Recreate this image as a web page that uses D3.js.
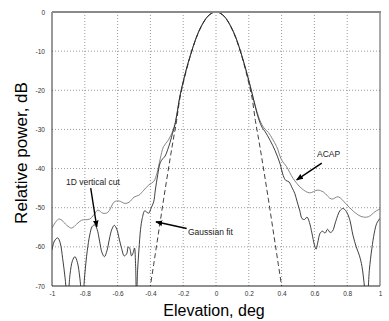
<!DOCTYPE html>
<html><head><meta charset="utf-8">
<script src="https://cdn.jsdelivr.net/npm/d3@7"></script>
<style>body{margin:0;background:#fff} svg{display:block}</style>
</head><body><svg id="c" width="389" height="321"></svg>
<script>
// ---- data ----
const xTicks = [-1,-0.8,-0.6,-0.4,-0.2,0,0.2,0.4,0.6,0.8,1];
const xTickLabels = ["-1","-0.8","-0.6","-0.4","-0.2","0","0.2","0.4","0.6","0.8","1"];
const yTicks = [0,-10,-20,-30,-40,-50,-60,-70];
const yTickLabels = ["0","-10","-20","-30","-40","-50","-60","-70"];

const acapElev = [-1,-0.98,-0.96,-0.94,-0.91,-0.88,-0.85,-0.82,-0.77,-0.745,-0.72,-0.69,-0.66,-0.62,-0.59,-0.555,-0.53,-0.5,-0.47,-0.44,-0.41,-0.38,-0.36,-0.34,-0.32,-0.29,-0.26,-0.24,-0.22,-0.2,-0.18,-0.16,-0.14,-0.12,-0.1,-0.08,-0.06,-0.04,-0.02,0,0.02,0.04,0.06,0.08,0.1,0.12,0.14,0.16,0.18,0.2,0.22,0.24,0.26,0.28,0.3,0.32,0.345,0.37,0.4,0.43,0.47,0.52,0.57,0.62,0.655,0.705,0.745,0.79,0.84,0.89,0.93,0.97,1];
const acapPower = [-55.2,-53.8,-52.9,-53.2,-54.5,-55.2,-54.2,-53.2,-52.9,-51.8,-50.6,-51.4,-51.2,-48.5,-48.3,-48.9,-48.6,-47.3,-46.8,-45.5,-44.2,-43.3,-41.2,-37.5,-34.4,-32.7,-30,-26.5,-21.5,-17.8,-14.5,-11.6,-8.9,-6.5,-4.5,-2.9,-1.6,-0.7,-0.2,0,-0.2,-0.7,-1.6,-2.9,-4.5,-6.4,-8.8,-11.5,-14.4,-17.5,-20.8,-24,-26.8,-28.8,-30,-30.8,-32.5,-34.4,-37.8,-39.5,-42.5,-45,-46.2,-45.5,-46,-47.8,-47.2,-48.9,-51,-52.3,-52.3,-51,-50.3];

const cutElev = [-1,-0.985,-0.965,-0.95,-0.935,-0.92,-0.905,-0.89,-0.875,-0.86,-0.845,-0.83,-0.815,-0.8,-0.785,-0.77,-0.755,-0.74,-0.725,-0.71,-0.695,-0.68,-0.665,-0.65,-0.635,-0.62,-0.605,-0.59,-0.575,-0.56,-0.545,-0.535,-0.525,-0.515,-0.505,-0.497,-0.49,-0.485,-0.478,-0.47,-0.46,-0.45,-0.435,-0.42,-0.41,-0.395,-0.38,-0.37,-0.355,-0.34,-0.325,-0.31,-0.295,-0.28,-0.265,-0.25,-0.24,-0.22,-0.2,-0.18,-0.16,-0.14,-0.12,-0.1,-0.08,-0.06,-0.04,-0.02,0,0.02,0.04,0.06,0.08,0.1,0.12,0.14,0.16,0.18,0.2,0.22,0.24,0.26,0.28,0.3,0.33,0.36,0.39,0.41,0.425,0.445,0.465,0.48,0.495,0.51,0.525,0.54,0.555,0.57,0.585,0.6,0.61,0.62,0.635,0.65,0.665,0.68,0.695,0.71,0.73,0.755,0.775,0.795,0.815,0.835,0.855,0.875,0.89,0.905,0.915,0.925,0.935,0.95,0.965,0.98,1];
const cutPower = [-60.8,-58.5,-57.7,-59,-63,-68,-74,-67,-63.5,-62.5,-64,-68,-74,-67,-61,-57,-54.8,-54.4,-55.5,-58.5,-61.5,-62.5,-61,-58,-55.5,-54.5,-55.5,-58,-60.5,-62.3,-61.8,-60,-60.5,-62.3,-61.5,-60.3,-65,-74,-66,-60.8,-55.5,-52.8,-50.8,-51.2,-51.4,-50,-48.5,-45.5,-41.5,-38.5,-37.5,-36.8,-35.2,-33.3,-31,-28.8,-26.5,-21.5,-17.8,-14.5,-11.6,-8.9,-6.5,-4.5,-2.9,-1.6,-0.7,-0.2,0,-0.2,-0.7,-1.6,-2.9,-4.5,-6.4,-8.8,-11.5,-14.4,-17.5,-20.8,-24.3,-27.3,-29.4,-30.6,-32.8,-35.4,-38.7,-41.8,-43,-43.4,-45,-46.3,-48.5,-50.6,-52.8,-53,-52.4,-53.8,-56.5,-59.5,-60.6,-59,-56.5,-56,-56.5,-55.5,-56.3,-56,-53.5,-50.8,-50.2,-51,-53,-57,-60,-62.3,-65,-70,-74,-72,-66,-60.5,-56.5,-54,-52.7];

const gaussElev = [-0.41,-0.4,-0.38,-0.36,-0.34,-0.32,-0.3,-0.28,-0.26,-0.24,-0.22,-0.2,-0.18,-0.16,-0.14,-0.12,-0.1,-0.08,-0.06,-0.04,-0.02,0,0.02,0.04,0.06,0.08,0.1,0.12,0.14,0.16,0.18,0.2,0.22,0.24,0.26,0.28,0.3,0.32,0.34,0.36,0.38,0.4,0.41];
const gaussPower = [-73,-70,-64.5,-59,-53.5,-48,-42.7,-37.5,-32.5,-27.7,-22,-18.2,-14.8,-11.7,-9,-6.6,-4.6,-2.9,-1.6,-0.7,-0.2,0,-0.2,-0.7,-1.6,-2.9,-4.6,-6.6,-9,-11.7,-14.8,-18.2,-22,-27.7,-32.5,-37.5,-42.7,-48,-53.5,-59,-64.5,-70,-73];

const notes = [
  {text:"ACAP", tx:0.616, ty:-37, from:[0.645,-38.6], to:[0.492,-42.9]},
  {text:"Gaussian fit", tx:-0.171, ty:-57, from:[-0.179,-55.3], to:[-0.366,-53.6]},
  {text:"1D vertical cut", tx:-0.915, ty:-44.2, from:[-0.764,-45], to:[-0.727,-54.9]}
];

// ---- layout ----
const L = 52, R = 380, T = 12, B = 286;
const svg = d3.select("#c");
const x = d3.scaleLinear().domain([-1,1]).range([L,R]);
const y = d3.scaleLinear().domain([-70,0]).range([B,T]);

svg.append("defs").append("clipPath").attr("id","clip")
  .append("rect").attr("x",L).attr("y",T-1).attr("width",R-L).attr("height",B-T+1);
const mk = svg.select("defs").append("marker").attr("id","ah")
  .attr("viewBox","0 0 10 10").attr("refX",9).attr("refY",5)
  .attr("markerWidth",5).attr("markerHeight",5).attr("orient","auto");
mk.append("path").attr("d","M0,1 L10,5 L0,9 z").attr("fill","#000");

// grid
svg.append("g").selectAll("line").data(xTicks.slice(1,-1)).join("line")
  .attr("x1",d=>x(d)).attr("x2",d=>x(d)).attr("y1",T).attr("y2",B)
  .attr("stroke","#9a9a9a").attr("stroke-width",1).attr("stroke-dasharray","1,2");
svg.append("g").selectAll("line").data(yTicks.slice(1,-1)).join("line")
  .attr("y1",d=>y(d)).attr("y2",d=>y(d)).attr("x1",L).attr("x2",R)
  .attr("stroke","#9a9a9a").attr("stroke-width",1).attr("stroke-dasharray","1,2");

// axes
const xAxis = svg.append("g").attr("transform",`translate(0,${B})`)
  .call(d3.axisBottom(x).tickValues(xTicks).tickFormat((d,i)=>xTickLabels[i]).tickSize(0).tickPadding(5));
const yAxis = svg.append("g").attr("transform",`translate(${L},0)`)
  .call(d3.axisLeft(y).tickValues(yTicks).tickFormat((d,i)=>yTickLabels[i]).tickSize(0).tickPadding(7));
[xAxis,yAxis].forEach(g=>{
  g.select(".domain").remove();
  g.selectAll("text").attr("font-family","Liberation Sans, Arial, sans-serif")
    .attr("font-size","6.5px").attr("fill","#333");
});

// curves
const line = d3.line().x(d=>x(d[0])).y(d=>y(d[1])).curve(d3.curveCatmullRom.alpha(0.5));
const plot = svg.append("g").attr("clip-path","url(#clip)");
plot.append("path").datum(acapElev.map((e,i)=>[e,acapPower[i]]))
  .attr("d",line).attr("fill","none").attr("stroke","#858585").attr("stroke-width",1);
plot.append("path").datum(cutElev.map((e,i)=>[e,cutPower[i]]))
  .attr("d",line).attr("fill","none").attr("stroke","#2a2a2a").attr("stroke-width",0.9);
plot.append("path").datum(gaussElev.map((e,i)=>[e,gaussPower[i]]))
  .attr("d",line).attr("fill","none").attr("stroke","#2a2a2a").attr("stroke-width",0.9)
  .attr("stroke-dasharray","5,3");

// frame
svg.append("line").attr("x1",L).attr("x2",L).attr("y1",T).attr("y2",B).attr("stroke","#333");
svg.append("line").attr("x1",L).attr("x2",R).attr("y1",B).attr("y2",B).attr("stroke","#222");
svg.append("line").attr("x1",R).attr("x2",R).attr("y1",T).attr("y2",B).attr("stroke","#555");
svg.append("line").attr("x1",L).attr("x2",R+1).attr("y1",T).attr("y2",T).attr("stroke","#8a8a8a").attr("stroke-width",2);

// annotations
const ann = svg.append("g");
notes.forEach(n=>{
  ann.append("line").attr("x1",x(n.from[0])).attr("y1",y(n.from[1]))
    .attr("x2",x(n.to[0])).attr("y2",y(n.to[1]))
    .attr("stroke","#000").attr("stroke-width",1.4).attr("marker-end","url(#ah)");
  ann.append("text").attr("x",x(n.tx)).attr("y",y(n.ty)).text(n.text)
    .attr("font-family","Liberation Sans, Arial, sans-serif").attr("font-size","8.5px").attr("fill","#222");
});

// axis titles
svg.append("text").attr("x",214).attr("y",316).attr("text-anchor","middle")
  .attr("font-family","Liberation Sans, Arial, sans-serif").attr("font-size","16px").attr("fill","#000")
  .text("Elevation, deg");
svg.append("text").attr("transform","translate(27,153) rotate(-90)").attr("text-anchor","middle")
  .attr("font-family","Liberation Sans, Arial, sans-serif").attr("font-size","17px").attr("fill","#000")
  .text("Relative power, dB");
</script></body></html>
